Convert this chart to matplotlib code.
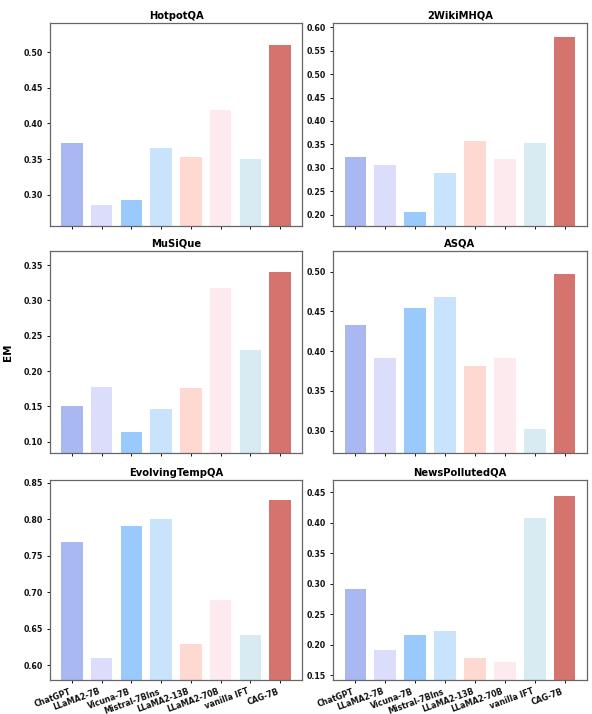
import matplotlib
matplotlib.use("Agg")
import matplotlib.pyplot as plt
import matplotlib.ticker as mticker

models = ["ChatGPT", "LLaMA2-7B", "Vicuna-7B", "Mistral-7BIns", "LLaMA2-13B",
          "LLaMA2-70B", "vanilla IFT", "CAG-7B"]
colors = ["#aab8f2", "#dcdcfb", "#99c9fd", "#c9e3fd", "#fdd9d2", "#fdeaef", "#d8ebf2", "#d5736e"]

datasets = ["HotpotQA", "2WikiMHQA", "MuSiQue", "ASQA", "EvolvingTempQA", "NewsPollutedQA"]
hotpotqa = [0.372, 0.286, 0.292, 0.366, 0.353, 0.419, 0.350, 0.510]
wikimhqa = [0.324, 0.307, 0.206, 0.289, 0.357, 0.318, 0.354, 0.579]
musique = [0.150, 0.178, 0.114, 0.146, 0.176, 0.317, 0.230, 0.340]
asqa = [0.433, 0.391, 0.454, 0.468, 0.382, 0.391, 0.302, 0.497]
evolvingtempqa = [0.769, 0.610, 0.791, 0.800, 0.629, 0.689, 0.642, 0.827]
newspollutedqa = [0.292, 0.191, 0.215, 0.222, 0.178, 0.172, 0.408, 0.443]
values = [hotpotqa, wikimhqa, musique, asqa, evolvingtempqa, newspollutedqa]
ylims = [(0.256, 0.541), (0.176, 0.609), (0.084, 0.370),
         (0.272, 0.526), (0.580, 0.854), (0.142, 0.470)]

fig = plt.figure(figsize=(5.92, 7.14), dpi=100)
W, H = 592, 714
lefts = [50, 333]
rights = [302, 587]
tops = [23, 251, 480]
bottoms = [226, 453, 680]

for i, name in enumerate(datasets):
    r, c = divmod(i, 2)
    ax = fig.add_axes([lefts[c] / W, 1 - bottoms[r] / H,
                       (rights[c] - lefts[c]) / W, (bottoms[r] - tops[r]) / H])
    x = range(len(models))
    ax.bar(x, values[i], width=0.72, color=colors)
    ax.set_ylim(*ylims[i])
    ax.set_title(name, fontsize=7.2, fontweight="bold", pad=3)
    ax.set_xticks(list(x))
    if r == 2:
        ax.set_xticklabels(models, rotation=20, ha="right", fontsize=5.8,
                           fontweight="bold")
    else:
        ax.set_xticklabels([])
    ax.tick_params(axis="both", labelsize=5.7, length=2.5, width=0.7,
                   colors="#111111", pad=2.5)
    for lab in ax.get_yticklabels():
        lab.set_fontweight("bold")
    ax.yaxis.set_major_formatter(mticker.FormatStrFormatter("%.2f"))
    for s in ax.spines.values():
        s.set_color("#666666")
        s.set_linewidth(0.9)
    if i == 2:
        ax.set_ylabel("EM", fontsize=7.5, fontweight="bold")
        ax.yaxis.set_label_coords(-0.145, 0.5)

fig.savefig("out.png", dpi=100)
